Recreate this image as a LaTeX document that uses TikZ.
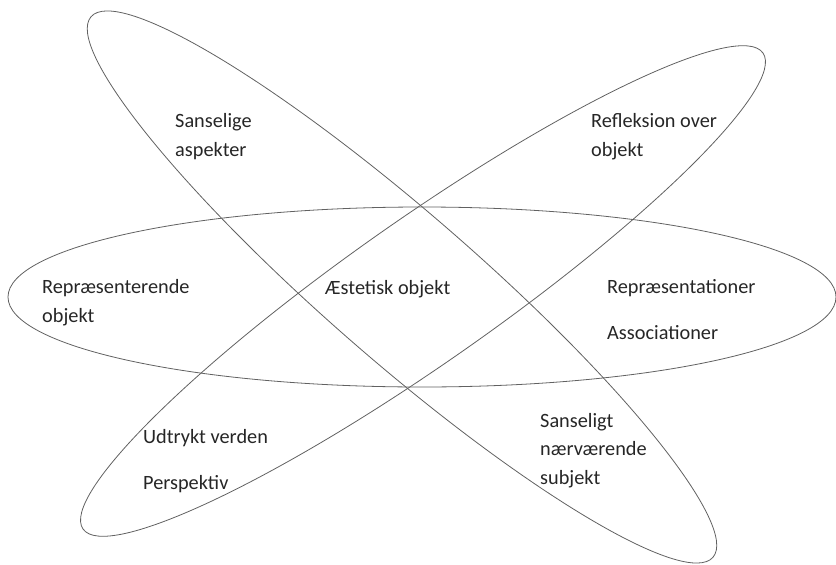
\documentclass[tikz,border=0pt]{standalone}
\usepackage{fontspec}
\setmainfont{Carlito}
\usetikzlibrary{positioning}

\tikzset{
  ring/.style={draw=black!62, line width=0.8pt},
  lbl/.style={anchor=base west, align=left, inner sep=0pt, text=black!85,
    font=\fontsize{20.3}{28.5}\selectfont}
}

\begin{document}
\begin{tikzpicture}[x=1pt, y=-1pt]
    \useasboundingbox (0,0) rectangle (836,565);

    % Ellipses
    \draw[ring] (422,297) ellipse [x radius=414pt, y radius=90pt];
    \draw[ring, rotate around={-41:(402,287)}] (402,287) ellipse [x radius=412pt, y radius=74pt];
    \draw[ring, rotate around={35:(423,291)}] (423,291) ellipse [x radius=415pt, y radius=72pt];

    % Labels (base = last line)
    \node[lbl] (sans) at (175,156) {Sanselige\\aspekter};
    \node[lbl] (refl) at (591,156) {Refleksion over\\objekt};
    \node[lbl] (repobj) at (42,322) {Repræsenterende\\objekt};
    \node[lbl] (aest) at (325,294) {Æstetisk objekt};
    \node[lbl] (repr) at (607,339) {Repræsentationer\\[17pt]Associationer};
    \node[lbl] (udtr) at (143,489) {Udtrykt verden\\[17pt]Perspektiv};
    \node[lbl] (subj) at (540,484) {Sanseligt\\nærværende\\subjekt};

\end{tikzpicture}
\end{document}
